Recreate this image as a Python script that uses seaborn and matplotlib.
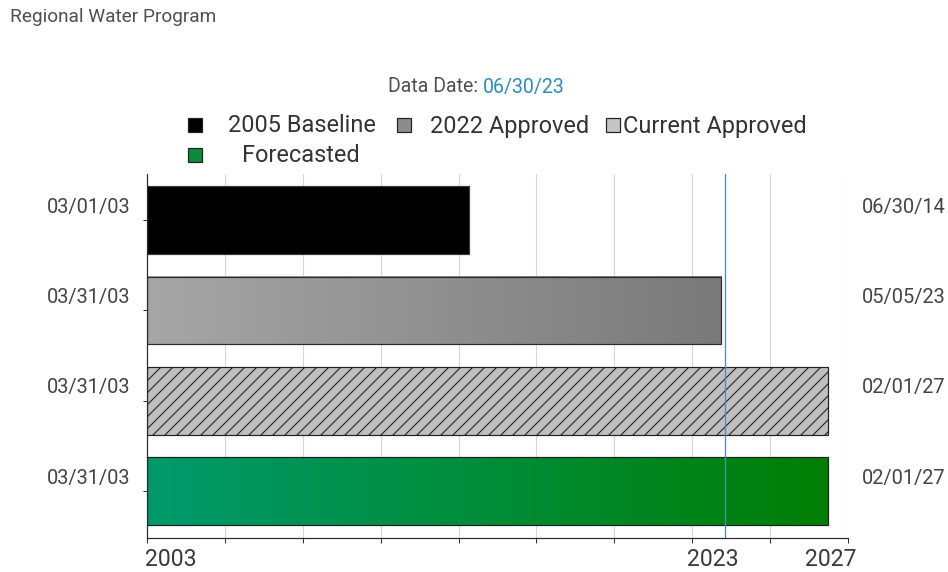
import numpy as np
import pandas as pd
import matplotlib
matplotlib.use("Agg")
import matplotlib.pyplot as plt
from matplotlib.colors import LinearSegmentedColormap
from matplotlib.patches import Rectangle
import seaborn as sns

# ---------------- data ----------------
title = "Regional Water Program"
data_date_label = "Data Date:"
data_date = "06/30/23"
categories = ["2005 Baseline", "2022 Approved", "Current Approved", "Forecasted"]
start_dates = ["03/01/03", "03/31/03", "03/31/03", "03/31/03"]
end_dates = ["06/30/14", "05/05/23", "02/01/27", "02/01/27"]
axis_start = "03/01/03"
axis_end = "10/20/27"
year_labels = ["2003", "2023", "2027"]
year_label_pos = [2003.16, 2023.05, 2027.2]

# ---------------- styles ----------------
W, H, DPI = 948, 572, 72
sns.set_theme(style="white")
plt.rcParams["font.family"] = ["Roboto", "DejaVu Sans"]
plt.rcParams["hatch.linewidth"] = 1.1

def dec_year(s):
    d = pd.to_datetime(s, format="%m/%d/%y")
    ndays = 366 if d.is_leap_year else 365
    return d.year + (d.dayofyear - 1) / ndays

starts = [dec_year(s) for s in start_dates]
ends = [dec_year(s) for s in end_dates]
xmin, xmax = dec_year(axis_start), dec_year(axis_end)
ddate = dec_year(data_date)

df = pd.DataFrame({"category": categories, "end": ends})

fig = plt.figure(figsize=(W / DPI, H / DPI), dpi=DPI)
fig.patch.set_facecolor("white")
ax = fig.add_axes([147 / W, 1 - 538 / H, 701 / W, 364 / H])

sns.barplot(data=df, x="end", y="category", order=categories, color="gray",
            width=0.75, ax=ax, zorder=2)

face = ["#000000", "none", "#bfbfbf", "none"]
gradients = [None, ["#a6a6a6", "#7a7a7a"], None, ["#009a6c", "#007e04"]]
hatches = [None, None, "//", None]
edge = ["#3a3a3a", "#2a2a2a", "#222222", "#1f1f1f"]

for i, p in enumerate(ax.patches[:len(categories)]):
    p.set_x(starts[i] if i == 0 else xmin)
    p.set_width(ends[i] - p.get_x())
    p.set_facecolor(face[i])
    p.set_edgecolor(edge[i])
    p.set_linewidth(1.2)
    p.set_zorder(2)
    if hatches[i]:
        p.set_hatch(hatches[i])
    if gradients[i]:
        cmap = LinearSegmentedColormap.from_list(f"g{i}", gradients[i])
        y0, h = p.get_y(), p.get_height()
        ax.imshow(np.linspace(0, 1, 256).reshape(1, -1), cmap=cmap,
                  extent=[p.get_x(), p.get_x() + p.get_width(), y0 + h, y0],
                  aspect="auto", zorder=1.5, interpolation="bilinear")

ax.set_xlim(xmin, xmax)
ax.set_ylim(len(categories) - 0.48, -0.51)

grid_x = np.linspace(xmin, xmax, 10)
ax.set_xticks(grid_x)
ax.set_xticklabels([])
ax.set_yticks(range(len(categories)))
ax.set_yticklabels([])
for gx in grid_x:
    ax.axvline(gx, color="#d6d6d6", lw=1.1, zorder=0.5)
ax.axvline(ddate, color="#4a8cbc", lw=1.3, zorder=3)

ax.tick_params(axis="x", bottom=True, direction="out", length=5, width=1, color="#333333")
ax.tick_params(axis="y", left=True, direction="out", length=4, width=1, color="#333333")
ax.set_xlabel("")
ax.set_ylabel("")
for s in ["top", "right"]:
    ax.spines[s].set_visible(False)
for s in ["left", "bottom"]:
    ax.spines[s].set_color("#2a2a2a")
    ax.spines[s].set_linewidth(1.2)

# side labels
for i in range(len(categories)):
    ax.annotate(start_dates[i], xy=(0, i), xycoords=("axes fraction", "data"),
                xytext=(-17, 13), textcoords="offset pixels", ha="right", va="center",
                fontsize=20, color="#444444")
    ax.annotate(end_dates[i], xy=(1, i), xycoords=("axes fraction", "data"),
                xytext=(14, 13), textcoords="offset pixels", ha="left", va="center",
                fontsize=20, color="#444444")

# year labels
for lab, pos, ha in zip(year_labels, year_label_pos, ["left", "center", "center"]):
    ax.annotate(lab, xy=(pos, 0), xycoords=("data", "axes fraction"),
                xytext=(-2 if ha == "left" else 0, -21), textcoords="offset pixels",
                ha=ha, va="center", fontsize=23, color="#3a3a3a")

# title
fig.text(10 / W, 1 - 17 / H, title, ha="left", va="center", fontsize=19, color="#505050")

# data date
t1 = fig.text(388 / W, 1 - 87 / H, data_date_label, ha="left", va="center",
              fontsize=19.5, color="#505050")
ax.annotate(data_date, xy=(1, 0.5), xycoords=t1, xytext=(5, 0),
            textcoords="offset pixels", ha="left", va="center",
            fontsize=19.5, color="#2a8cc4")

# legend (manual)
leg_marker_face = ["#000000", "#8c8c8c", "#c4c4c4", "#0b8a3a"]
leg_marker_xy = [(188, 125), (397, 125), (606, 125), (188, 155)]
leg_text_x = [228, 430, 623, 242]
for lab, fc, (mx, my), tx in zip(categories, leg_marker_face, leg_marker_xy, leg_text_x):
    fig.add_artist(Rectangle((mx / W, 1 - (my + 7) / H), 14 / W, 14 / H,
                             transform=fig.transFigure, facecolor=fc,
                             edgecolor="#222222", linewidth=1.2))
    fig.text(tx / W, 1 - (my + 1) / H, lab, ha="left", va="center",
             fontsize=23.5, color="#333333")

fig.savefig("out.png", dpi=DPI)
